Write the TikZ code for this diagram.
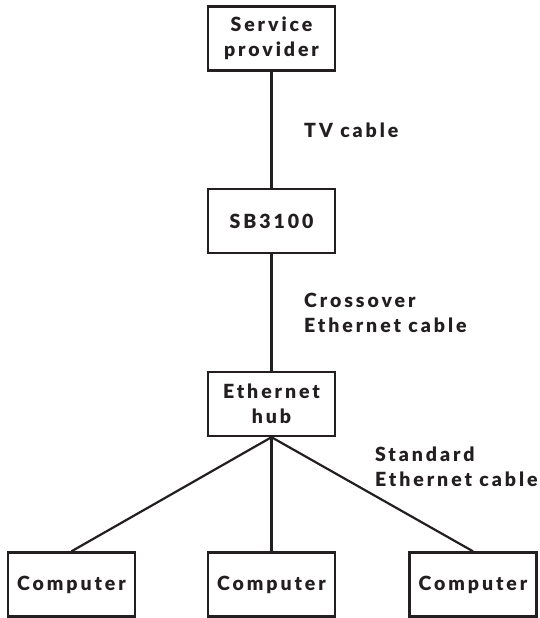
\documentclass[tikz,border=0pt]{standalone}
\usepackage{fontspec}
\setmainfont{Lato}[BoldFont={Lato Black}, LetterSpace=15]
\definecolor{ink}{HTML}{231F20}
\begin{document}
\begin{tikzpicture}[x=1pt,y=-1pt,
    box/.style={draw=ink, line width=2.4pt, minimum width=127pt, minimum height=64pt,
      inner sep=0pt, align=center, text=ink, font=\bfseries\fontsize{19.5}{25}\selectfont},
    cable/.style={draw=ink, line width=2.2pt},
    lbl/.style={anchor=north west, inner sep=0pt, align=left, text=ink,
      font=\bfseries\fontsize{19.5}{25}\selectfont}]
    \useasboundingbox (0,0) rectangle (540,618) ;

    \node [box] (prov) at (271.5,38.5) {Service\\provider} ;
    \node [box] (sb) at (271.5,221) {SB3100} ;
    \node [box] (hub) at (271.5,404) {Ethernet\\hub} ;
    \draw [cable] (prov.south) -- (sb.north) ;
    \draw [cable] (sb.south) -- (hub.north) ;
    \node [lbl] (tv) at (304,122.5) {TV cable} ;
    \node [lbl] (cross) at (304,292.5) {Crossover\\Ethernet cable} ;
    \node [lbl] (std) at (375,446.5) {Standard\\Ethernet cable} ;
    \foreach \i/\x in {1/71.5,2/271.5,3/473} {
      \node [box] (pc\i) at (\x,584.5) {Computer} ;
      \draw [cable] (hub.south) -- (pc\i.north) ;
    }

  \end{tikzpicture}
\end{document}
